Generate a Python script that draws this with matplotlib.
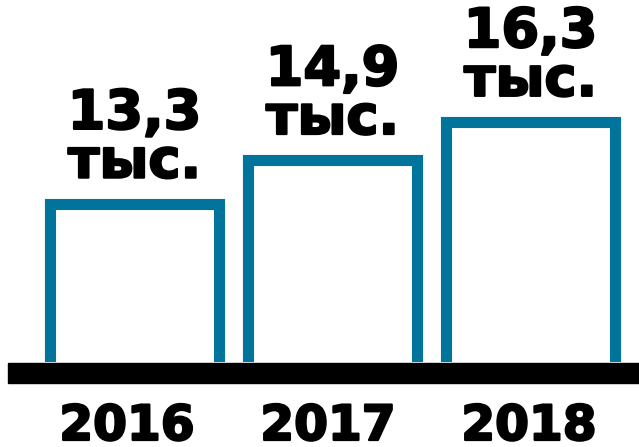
import matplotlib
matplotlib.use("Agg")
import matplotlib.pyplot as plt
import matplotlib.patheffects as pe
from matplotlib.patches import Rectangle

years = ["2016", "2017", "2018"]
values = [13.3, 14.9, 16.3]
labels = ["13,3\nтыс.", "14,9\nтыс.", "16,3\nтыс."]

teal = "#00749a"
heavy = [pe.withStroke(linewidth=1.6, foreground="black")]

fig = plt.figure(figsize=(6.39, 4.47), dpi=100)
ax = fig.add_axes([0, 85 / 447, 1, 362 / 447])

x = range(len(years))
ax.bar(x, values, width=0.85, color="white", edgecolor=teal, linewidth=8)
ax.set_xlim(-0.679, 2.548)
ax.set_ylim(7.5, 20.78)

for i, (v, lab) in enumerate(zip(values, labels)):
    ax.annotate(lab, (i, v), xytext=(0, 11), textcoords="offset points",
                ha="center", va="bottom", fontsize=39, fontweight="bold",
                family="DejaVu Sans", linespacing=0.92, color="black",
                path_effects=heavy)

for i, yr in enumerate(years):
    fig.text((127 + 201 * i) / 639, 7 / 447, yr, ha="center", va="baseline",
             fontsize=35, fontweight="bold", family="DejaVu Sans", color="black",
             path_effects=heavy)

# black base strip
fig.add_artist(Rectangle((8 / 639, 64 / 447), 631 / 639, 20 / 447,
                         transform=fig.transFigure, color="black", zorder=5))

ax.axis("off")
fig.savefig("out.png", dpi=100)
